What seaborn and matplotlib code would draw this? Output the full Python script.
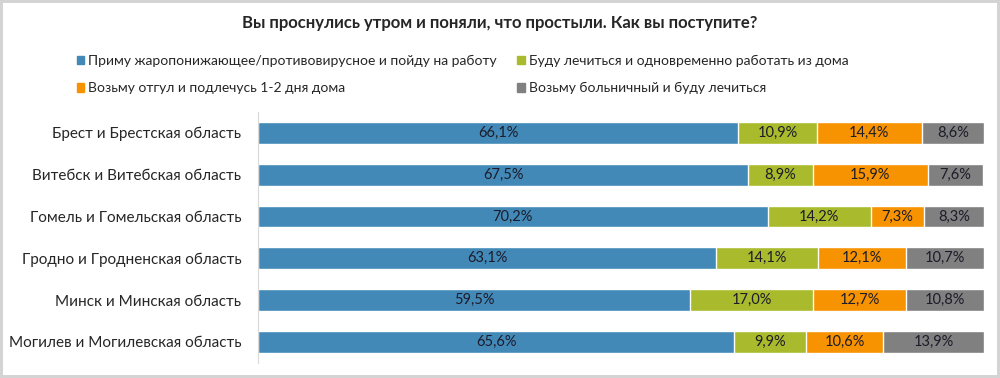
import pandas as pd
import numpy as np
import matplotlib
matplotlib.use("Agg")
import matplotlib.pyplot as plt
import matplotlib.patches as mpatches
import seaborn as sns

regions = ["Брест и Брестская область", "Витебск и Витебская область",
           "Гомель и Гомельская область", "Гродно и Гродненская область",
           "Минск и Минская область", "Могилев и Могилевская область"]
series = ["Приму жаропонижающее/противовирусное и пойду на работу",
          "Буду лечиться и одновременно работать из дома",
          "Возьму отгул и подлечусь 1-2 дня дома",
          "Возьму больничный и буду лечиться"]
work = [66.1, 67.5, 70.2, 63.1, 59.5, 65.6]
home = [10.9, 8.9, 14.2, 14.1, 17.0, 9.9]
dayoff = [14.4, 15.9, 7.3, 12.1, 12.7, 10.6]
sick = [8.6, 7.6, 8.3, 10.7, 10.8, 13.9]
colors = ["#4389B8", "#A9BA2C", "#F79300", "#808080"]

sns.set_style("white")
plt.rcParams['font.family'] = ['Lato', 'DejaVu Sans']

df = pd.DataFrame({"region": regions, "s0": work, "s1": home, "s2": dayoff, "s3": sick})
cols = ["s0", "s1", "s2", "s3"]
cum = df[cols].cumsum(axis=1)

fig = plt.figure(figsize=(10, 3.78), dpi=100)
fig.patch.set_edgecolor("#d4d4d4")
fig.patch.set_linewidth(3)
ax = fig.add_axes([0.258, 0.04, 0.726, 0.664])

# stacked bars: draw cumulative totals from the back to the front
for i in reversed(range(4)):
    sns.barplot(x=cum[cols[i]], y=df["region"], color=colors[i], width=0.52,
                saturation=1, ax=ax, orient="h")

for r in range(len(df)):
    left = 0
    for i, c in enumerate(cols):
        v = df.loc[r, c]
        ax.text(left + v / 2, r, f"{v:.1f}%".replace(".", ","), ha="center",
                va="center", fontsize=10.5, color="#1c1c2a")
        left += v

ax.set_xlim(0, 100)
ax.set_xlabel("")
ax.set_ylabel("")
ax.set_xticks([])
ax.tick_params(axis="y", length=0, labelsize=11, pad=12)
for s in ["top", "right", "bottom"]:
    ax.spines[s].set_visible(False)
ax.spines["left"].set_color("#d9d9d9")

fig.text(0.5, 0.94, "Вы проснулись утром и поняли, что простыли. Как вы поступите?",
         ha="center", va="center", fontsize=12, fontweight="bold")

handles = [mpatches.Patch(color=colors[i], label=series[i]) for i in range(4)]
# legend filled row by row like the original
order = [0, 2, 1, 3]
fig.legend(handles=[handles[i] for i in order], ncol=2, loc="upper left",
           bbox_to_anchor=(0.064, 0.888), frameon=False, fontsize=10,
           handlelength=0.55, handleheight=0.55, handletextpad=0.3,
           columnspacing=1.45, labelspacing=1.1)

fig.savefig("out.png", dpi=100)
